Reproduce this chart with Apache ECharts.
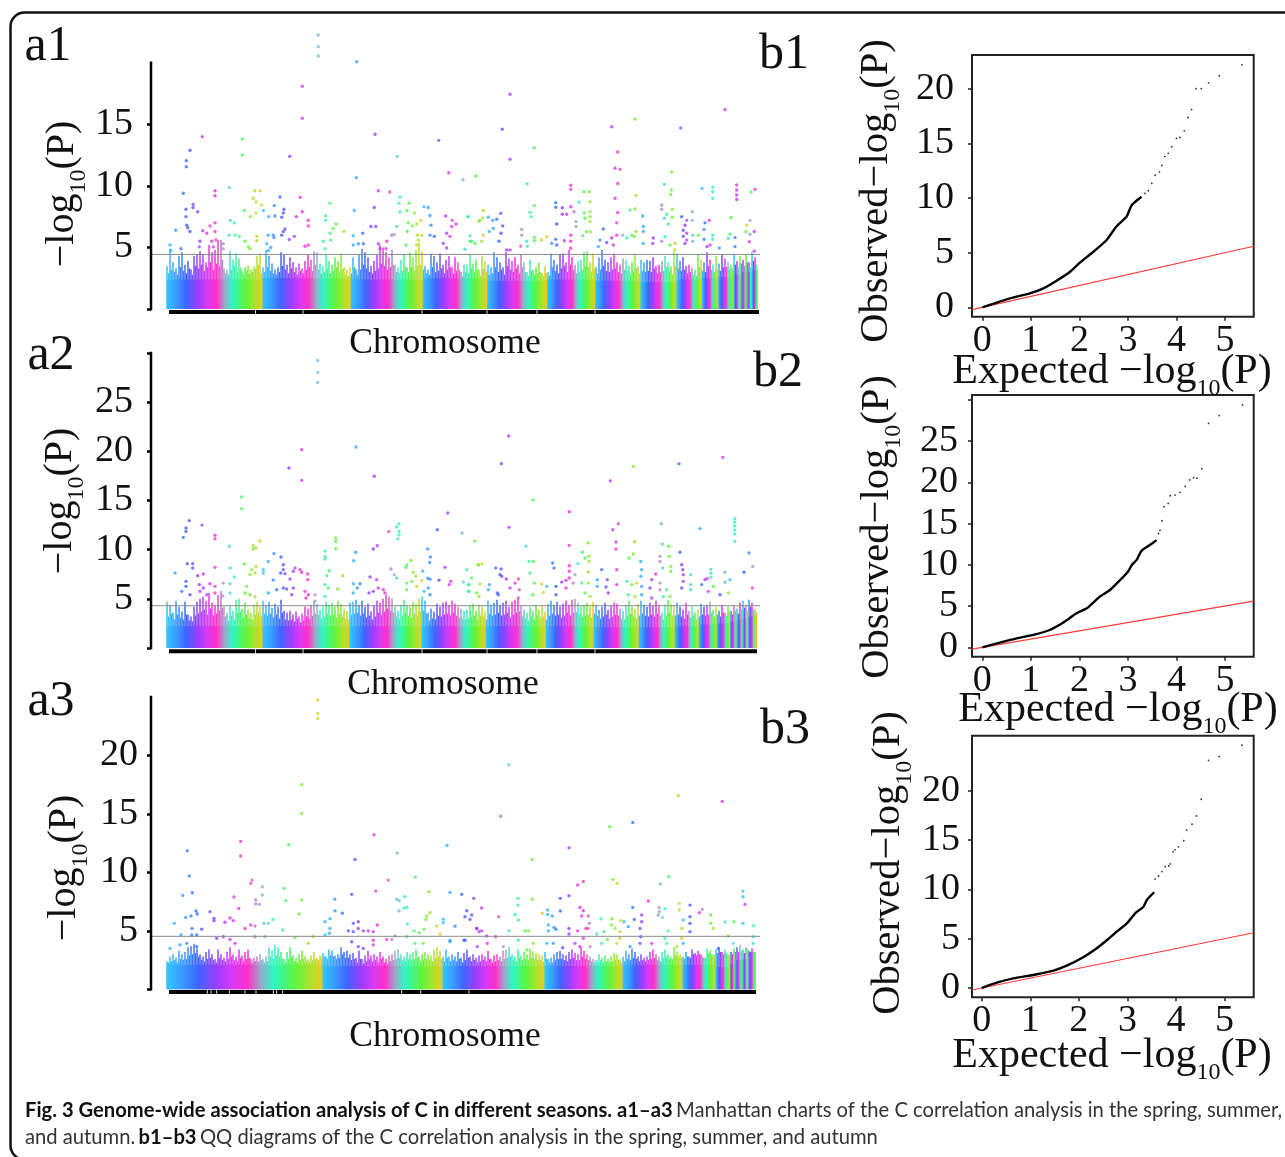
<!DOCTYPE html>
<html>
<head>
<meta charset="utf-8">
<title>Fig. 3</title>
<script src="https://cdn.jsdelivr.net/npm/echarts@6/dist/echarts.min.js"></script>
<style>
  html, body { margin: 0; padding: 0; background: #fff; }
  #chart { width: 1285px; height: 1157px; }
</style>
</head>
<body>
<div id="chart"></div>
<script>
// chromosome boundaries, in position units from the start of the first chromosome
const a1Chroms = [0, 96, 184, 256, 320, 380, 428, 474, 510, 535, 551, 567, 574, 580, 585, 591];
const a2Chroms = [0, 96, 183, 255, 319, 379, 427, 472, 508, 532, 550, 563, 570, 576, 581, 589];
const a3Chroms = [0, 156, 276, 378, 456, 516, 549, 563, 568, 576, 581, 589];

// height of the solid band on each chromosome
const a1Band = [2.4, 2.5, 2.4, 2.5, 2.3, 2.4, 2.3, 2.2, 2.4, 2.5, 2.6, 2.8, 3.0, 3.0, 3.2];
const a2Band = [2.2, 2.2, 2.2, 2.2, 2.2, 2.2, 2.1, 2.1, 2.2, 2.4, 2.5, 2.7, 2.9, 3.0, 3.2];
const a3Band = [2.1, 2.0, 2.0, 2.0, 2.1, 2.1, 1.9, 2.2, 2.5, 2.6, 3.2];

// top of the point cloud, one value every 3 position units
const a1Tops = [
  3.5, 4.9, 3.8, 3.3, 4.3, 4.6, 3.6, 3.9, 3.2, 4.3,
  4.4, 4.7, 4.4, 3.8, 5.2, 4.6, 4.8, 5.6, 5.6, 3.3,
  3.2, 4.7, 4.0, 4.5, 4.1, 3.1, 3.4, 3.5, 3.2, 3.5,
  4.3, 4.4, 3.4, 4.8, 4.3, 3.7, 3.2, 3.4, 4.6, 4.4,
  3.6, 4.2, 3.8, 3.4, 3.7, 3.3, 3.9, 4.4, 4.0, 4.7,
  4.6, 3.7, 3.5, 4.4, 3.9, 3.6, 4.2, 3.9, 4.5, 3.4,
  3.2, 3.4, 4.2, 3.2, 4.4, 4.9, 4.6, 4.2, 3.5, 3.9,
  4.4, 5.2, 5.0, 4.6, 4.2, 4.8, 3.6, 3.4, 4.0, 4.4,
  3.4, 4.6, 4.2, 4.8, 5.4, 4.7, 3.5, 3.2, 4.5, 4.3,
  3.8, 4.5, 3.6, 4.0, 4.3, 3.4, 4.2, 3.8, 3.0, 3.6,
  3.6, 4.4, 3.7, 4.0, 3.2, 4.3, 3.9, 3.6, 3.4, 4.6,
  4.2, 3.8, 3.4, 4.6, 4.1, 3.9, 4.2, 3.6, 4.4, 3.8,
  3.0, 4.0, 3.2, 3.4, 3.8, 2.9, 3.5, 3.0, 4.5, 4.0,
  3.6, 4.4, 4.5, 3.8, 4.8, 4.2, 3.6, 3.9, 4.0, 4.6,
  4.7, 3.8, 4.5, 3.4, 4.2, 4.8, 4.0, 3.8, 4.2, 4.5,
  3.8, 3.6, 4.1, 4.0, 3.5, 3.8, 4.4, 3.5, 4.0, 3.8,
  4.0, 3.9, 4.2, 3.5, 3.6, 3.9, 4.3, 3.8, 3.5, 4.7,
  4.5, 3.9, 4.2, 3.5, 3.6, 3.4, 3.2, 4.4, 4.0, 3.8,
  4.6, 4.0, 3.6, 4.3, 3.7, 4.4, 4.1, 3.8, 3.6, 4.4,
  3.9, 4.3, 4.0, 4.4, 3.8, 4.6, 4.2
];
const a2Tops = [
  4.7, 4.4, 3.6, 4.8, 4.2, 3.7, 4.7, 3.4, 3.2, 4.2,
  4.7, 5.0, 5.2, 4.8, 5.6, 4.6, 4.4, 5.4, 5.8, 4.2,
  3.6, 4.3, 3.8, 4.9, 5.0, 4.0, 4.6, 3.9, 3.6, 4.4,
  4.7, 4.2, 4.8, 4.4, 4.7, 4.1, 4.5, 4.2, 4.9, 3.8,
  3.6, 3.8, 3.4, 3.7, 3.2, 3.5, 4.2, 4.0, 4.4, 4.7,
  4.5, 3.9, 4.2, 4.7, 4.4, 4.6, 4.2, 4.8, 4.5, 4.0,
  3.8, 4.6, 4.7, 4.9, 4.4, 4.8, 4.2, 4.5, 3.7, 4.3,
  4.8, 4.6, 5.0, 5.4, 5.2, 5.0, 4.2, 3.8, 4.4, 4.9,
  4.4, 4.2, 4.7, 4.5, 5.0, 5.2, 4.8, 3.6, 4.0, 3.7,
  4.5, 4.2, 4.6, 4.7, 4.4, 4.8, 4.5, 4.2, 4.0, 3.8,
  3.9, 4.3, 4.5, 3.8, 4.4, 4.2, 3.7, 4.8, 4.4, 4.6,
  4.9, 4.4, 4.6, 4.8, 4.2, 4.7, 4.9, 5.0, 4.3, 3.9,
  3.6, 4.2, 3.8, 4.4, 3.9, 4.3, 3.7, 4.5, 4.8, 4.4,
  4.7, 4.2, 4.5, 4.8, 4.4, 4.9, 5.0, 4.6, 4.2, 4.4,
  4.6, 4.2, 4.7, 4.4, 3.9, 4.2, 4.6, 3.9, 4.3, 4.6,
  4.5, 4.0, 3.8, 4.4, 4.8, 4.2, 4.0, 4.5, 4.8, 4.4,
  4.2, 4.6, 4.3, 4.8, 4.4, 3.6, 4.4, 4.9, 4.5, 4.3,
  4.6, 4.2, 3.9, 4.6, 3.8, 4.2, 3.6, 3.9, 4.5, 4.2,
  4.4, 4.7, 3.9, 4.2, 3.8, 4.4, 3.6, 4.2, 3.8, 4.3,
  4.0, 4.6, 4.8, 4.4, 4.9, 4.6, 4.0
];
const a3Tops = [
  2.4, 2.8, 3.0, 2.7, 3.3, 3.0, 3.2, 3.6, 3.7, 3.9,
  3.5, 3.0, 2.8, 3.2, 3.4, 3.0, 2.6, 3.4, 3.0, 2.7,
  3.2, 3.6, 3.0, 2.8, 3.4, 2.9, 3.2, 3.4, 2.6, 2.7,
  2.8, 3.0, 2.6, 2.8, 3.6, 3.3, 3.8, 3.6, 3.2, 2.6,
  3.2, 3.6, 2.9, 2.7, 3.0, 3.3, 2.8, 2.6, 2.9, 3.2,
  2.7, 2.9, 3.1, 2.8, 3.4, 3.3, 2.9, 3.0, 3.6, 3.2,
  3.3, 3.0, 3.1, 2.7, 3.3, 2.6, 2.9, 3.3, 2.9, 3.0,
  2.8, 3.2, 2.8, 2.6, 2.9, 3.0, 3.3, 3.4, 3.0, 2.8,
  3.2, 3.0, 3.2, 3.4, 2.8, 3.0, 3.2, 3.0, 2.9, 3.4,
  3.6, 3.3, 2.8, 3.4, 2.8, 3.0, 2.8, 3.2, 2.7, 3.1,
  3.4, 2.8, 3.0, 2.7, 2.9, 3.0, 2.8, 3.3, 2.6, 2.9,
  3.0, 2.8, 3.3, 3.4, 3.6, 3.0, 2.8, 3.4, 2.9, 3.2,
  3.0, 3.5, 3.3, 3.1, 3.0, 2.9, 3.2, 2.6, 2.7, 3.0,
  3.2, 3.3, 3.0, 2.9, 3.2, 3.4, 3.1, 3.0, 3.6, 3.3,
  3.0, 2.8, 2.6, 2.5, 3.0, 2.7, 2.9, 2.6, 2.8, 3.1,
  3.0, 2.6, 2.8, 3.3, 3.0, 3.5, 3.2, 2.8, 3.0, 2.7,
  2.8, 3.2, 3.4, 3.0, 2.8, 3.2, 3.4, 3.0, 2.8, 3.6,
  3.2, 3.0, 2.8, 3.2, 2.8, 3.4, 3.1, 3.3, 3.0, 2.7,
  3.5, 3.3, 3.0, 3.4, 3.6, 3.2, 3.4, 3.0, 3.2, 3.5,
  3.6, 3.8, 3.4, 3.6, 3.3, 3.5
];

// lower, denser part of the cloud, in the columns between the ones above
const a1Mids = [
  2.9, 3.2, 3.0, 2.8, 3.4, 3.1, 2.9, 3.3, 2.8, 3.5,
  3.3, 3.6, 3.1, 3.4, 3.8, 3.2, 3.7, 3.5, 4.0, 2.9,
  2.8, 3.2, 3.5, 3.0, 3.4, 2.8, 3.1, 2.9, 3.0, 3.3,
  3.6, 2.9, 3.0, 3.4, 3.1, 2.9, 2.8, 3.0, 3.5, 3.2,
  2.9, 3.3, 3.0, 2.8, 3.1, 2.9, 3.2, 3.4, 3.1, 3.6,
  3.2, 2.9, 3.0, 3.3, 2.9, 3.1, 3.4, 3.0, 3.2, 2.8,
  2.7, 2.9, 3.4, 2.8, 3.2, 3.6, 3.3, 3.0, 2.9, 3.1,
  3.3, 3.7, 3.5, 3.2, 3.4, 3.6, 3.0, 2.9, 3.1, 3.4,
  3.0, 3.4, 3.1, 3.5, 3.6, 3.2, 2.9, 2.8, 3.4, 3.0,
  3.1, 3.3, 2.9, 3.2, 3.4, 2.9, 3.1, 3.2, 2.7, 3.0,
  2.9, 3.3, 3.0, 3.2, 2.7, 3.3, 3.0, 2.8, 2.9, 3.4,
  3.0, 3.2, 2.8, 3.5, 3.2, 3.0, 3.3, 2.9, 3.4, 3.0,
  2.7, 3.1, 2.8, 2.9, 3.0, 2.7, 2.9, 2.7, 3.4, 3.1,
  2.9, 3.3, 3.5, 3.0, 3.6, 3.2, 2.9, 3.0, 3.2, 3.5,
  3.4, 3.0, 3.3, 2.9, 3.2, 3.5, 3.1, 3.0, 3.2, 3.3,
  3.0, 2.9, 3.2, 3.1, 2.8, 3.0, 3.3, 2.9, 3.1, 3.0,
  3.1, 3.0, 3.3, 2.9, 3.0, 3.1, 3.4, 3.0, 2.8, 3.5,
  3.3, 3.1, 3.2, 2.9, 3.0, 2.8, 2.7, 3.4, 3.1, 3.0,
  3.5, 3.2, 3.0, 3.3, 3.1, 3.4, 3.4, 3.2, 3.3, 3.6,
  3.4, 3.7, 3.5, 3.8, 3.4, 3.9, 3.6
];
const a2Mids = [
  3.2, 3.5, 2.9, 3.4, 3.1, 2.9, 3.4, 2.8, 2.7, 3.3,
  3.5, 3.7, 3.9, 3.4, 4.0, 3.3, 3.5, 3.8, 4.1, 3.2,
  2.8, 3.3, 2.9, 3.6, 3.7, 3.1, 3.4, 3.0, 2.9, 3.4,
  3.6, 3.2, 3.5, 3.3, 3.5, 3.1, 3.4, 3.0, 3.6, 2.9,
  2.8, 2.9, 2.7, 3.0, 2.6, 2.8, 3.2, 3.0, 3.3, 3.5,
  3.4, 3.0, 3.2, 3.5, 3.3, 3.4, 3.1, 3.5, 3.2, 3.0,
  2.9, 3.4, 3.5, 3.6, 3.3, 3.5, 3.1, 3.3, 2.9, 3.2,
  3.6, 3.4, 3.7, 4.0, 3.8, 3.6, 3.2, 2.9, 3.3, 3.6,
  3.3, 3.1, 3.5, 3.3, 3.7, 3.8, 3.5, 2.8, 3.0, 2.9,
  3.3, 3.2, 3.4, 3.5, 3.3, 3.6, 3.3, 3.1, 3.0, 2.9,
  3.0, 3.2, 3.3, 2.9, 3.3, 3.2, 2.9, 3.5, 3.3, 3.4,
  3.6, 3.3, 3.4, 3.6, 3.1, 3.4, 3.6, 3.7, 3.2, 3.0,
  2.8, 3.2, 2.9, 3.3, 3.0, 3.2, 2.9, 3.3, 3.5, 3.3,
  3.4, 3.1, 3.3, 3.6, 3.3, 3.6, 3.7, 3.4, 3.2, 3.3,
  3.4, 3.1, 3.5, 3.3, 3.0, 3.2, 3.4, 3.0, 3.2, 3.4,
  3.3, 3.0, 2.9, 3.3, 3.5, 3.2, 3.0, 3.3, 3.5, 3.3,
  3.2, 3.4, 3.2, 3.5, 3.3, 2.9, 3.3, 3.6, 3.3, 3.3,
  3.4, 3.2, 3.0, 3.4, 3.1, 3.3, 2.9, 3.2, 3.4, 3.3,
  3.4, 3.6, 3.2, 3.4, 3.2, 3.6, 3.3, 3.7, 3.4, 3.8,
  3.5, 3.9, 4.1, 3.8, 4.2, 3.9, 3.6
];
const a3Mids = [
  2.3, 2.4, 2.5, 2.3, 2.6, 2.5, 2.6, 2.9, 3.0, 3.1,
  2.8, 2.5, 2.4, 2.6, 2.7, 2.5, 2.3, 2.7, 2.5, 2.4,
  2.6, 2.8, 2.5, 2.4, 2.7, 2.4, 2.6, 2.7, 2.3, 2.4,
  2.4, 2.5, 2.3, 2.4, 2.8, 2.6, 2.9, 2.8, 2.6, 2.3,
  2.6, 2.8, 2.4, 2.3, 2.5, 2.6, 2.4, 2.3, 2.5, 2.6,
  2.5, 2.7, 2.8, 2.6, 2.9, 2.8, 2.6, 2.7, 3.0, 2.7,
  2.7, 2.5, 2.6, 2.3, 2.6, 2.2, 2.4, 2.6, 2.4, 2.5,
  2.3, 2.6, 2.3, 2.2, 2.4, 2.5, 2.6, 2.7, 2.5, 2.4,
  2.6, 2.5, 2.6, 2.7, 2.4, 2.5, 2.6, 2.5, 2.4, 2.7,
  2.8, 2.6, 2.4, 2.7, 2.4, 2.5, 2.4, 2.6, 2.3, 2.5,
  2.7, 2.4, 2.5, 2.3, 2.4, 2.5, 2.4, 2.6, 2.3, 2.4,
  2.5, 2.4, 2.6, 2.7, 2.8, 2.5, 2.4, 2.7, 2.5, 2.6,
  2.5, 2.7, 2.6, 2.5, 2.5, 2.4, 2.6, 2.3, 2.3, 2.5,
  2.6, 2.6, 2.5, 2.4, 2.6, 2.7, 2.5, 2.5, 2.8, 2.6,
  2.5, 2.4, 2.3, 2.3, 2.5, 2.3, 2.4, 2.3, 2.4, 2.5,
  2.5, 2.3, 2.4, 2.6, 2.5, 2.7, 2.6, 2.4, 2.5, 2.4,
  2.5, 2.6, 2.7, 2.5, 2.4, 2.7, 2.8, 2.6, 2.6, 2.9,
  2.8, 2.7, 2.6, 2.8, 2.7, 3.0, 2.9, 3.0, 2.8, 2.7,
  3.1, 3.0, 2.9, 3.1, 3.2, 3.0, 3.1, 2.9, 3.0, 3.2,
  3.2, 3.3, 3.1, 3.3, 3.1, 3.2
];

// single points above the cloud: [position, -log10(P)]
const a1Points = [
  [151.3,22.26],[151.3,21.3],[151.3,20.55],[189.7,20.09],[135.3,18.1],[135.3,15.5],[35.3,14],[208,14.2],[271.7,13.7],[75.3,13.8],
  [75.3,12.5],[23,12.9],[19.3,12.05],[19.3,11.56],[122.7,12.4],[230.3,12.4],[281.7,11.07],[308.7,10.8],[189.3,10.67],[296,10.5],
  [62.3,9.86],[211.3,9.6],[222.7,9.5],[16.3,9.4],[48,9.6],[48,9.2],[88,9.6],[93,9.6],[86.3,9],[89,8.7],
  [113,9.1],[133.3,9.07],[233,9.1],[163,8.6],[232,8.6],[233,7.9],[240,8],[242,8.6],[26.3,8.5],[26,8.25],
  [19,8.1],[19,7.5],[30.7,7.9],[77.3,8],[96.3,8],[94.7,8.45],[89,7.8],[107.3,8.4],[117,8.1],[116.3,7.8],
  [108,7.55],[101.7,7.5],[114.7,7.45],[83.3,7.5],[135.3,7.9],[129.3,7.5],[141.3,7.2],[141.3,6.75],[158.7,7.55],[158.7,7.2],
  [187.3,8],[207.3,8.25],[247.3,7.8],[257,8.3],[261.3,8.25],[263,7.6],[278.7,7.55],[300.7,7.5],[285.3,7.2],[289,6.9],
  [284.7,6.7],[312,7.15],[48,7],[43,6.75],[63.3,7.2],[67.3,7],[35.7,6.36],[48,6.3],[19.7,6.8],[23,6.3],
  [20.7,6.6],[8.7,6.4],[169,6.9],[166.3,6.55],[177,6.3],[163,6.15],[204,6.7],[208.7,6.7],[229.7,6.7],[195.7,6.15],
  [186.3,5.95],[116.3,6.3],[114.7,6],[118,6.5],[101.3,6],[106.3,6],[107,5.8],[62.3,6],[68,6],[72.3,5.9],
  [89.7,5.9],[89.7,5.55],[127.3,5.9],[122.3,5.65],[263,6],[267.3,5.9],[264,6.8],[240.3,6.3],[241.3,7],[245.3,6.75],
  [249.7,6.9],[253.7,7.2],[224.7,6],[227.3,6.05],[279.7,6.15],[283,5.9],[250.3,6],[254.7,6],[33,5.5],[32.3,5.05],
  [39.7,6.15],[44.7,5.5],[49,5.6],[46.3,5.05],[3,5.2],[3.7,4.75],[14,4.9],[78,5.5],[81.3,5.05],[83,4.9],
  [56.3,5.3],[56.3,4.9],[99.7,5.3],[103.7,5],[101.3,4.75],[138,5.1],[141.3,5.2],[156.3,5.5],[158,4.9],[163.7,5.6],
  [186.3,5.2],[191.3,5.3],[196.3,5.3],[211.3,5.3],[219.7,5.5],[213,4.9],[219,4.9],[239,5.2],[249.7,5.2],[251.3,5.6],
  [343,17.44],[558,16.2],[468,15.43],[444.7,14.8],[513.7,14.7],[335.3,14.6],[367.3,13.1],[450.7,12.75],[343,12.16],[448,11.43],
  [453,11.35],[504.7,11.13],[450.7,10.2],[497.3,10.13],[360,10.18],[403.7,10.05],[403.7,9.72],[569.7,10.07],[569.7,9.67],[569.7,9.26],
  [569.7,8.9],[535,9.8],[545.7,9.88],[545.7,9.53],[545.7,9],[588,9.72],[584,9.5],[417,9.53],[422.3,9.53],[504.3,9.67],
  [503.7,9.3],[469,9.23],[448,9],[388.7,8.64],[388.7,8.26],[412,8.67],[423,8.72],[367.3,8.4],[403.7,8.3],[407,7.9],
  [395.3,8.23],[395.3,7.7],[399.7,7.7],[463,8.04],[468,8.12],[494.7,8.45],[494.7,8.1],[505.3,8.1],[525.3,7.9],[450.7,7.83],
  [417.3,7.8],[423,7.9],[418,7.37],[423,7.5],[423,7.1],[316.3,8],[333.7,7.77],[363,7.85],[364,7.5],[301.3,7.5],
  [475.7,7.55],[321.3,7.45],[329.7,7.3],[325.7,7.2],[313,7.2],[315.7,7.4],[564,7.42],[505.3,7.45],[499.7,7.7],[497.3,7.37],
  [501.3,6.9],[514.7,7.5],[519.7,7.2],[518,6.8],[516.3,6.4],[519.7,6.15],[516.3,5.9],[518,5.33],[519.7,5.6],[538,7],
  [542.3,7.2],[583,7.2],[579.7,6.8],[525.3,7.2],[449.7,7],[389.7,6.9],[409,7.1],[409,6.7],[335.7,6.75],[334,6.15],
  [322.3,6.3],[326.3,6.55],[354.7,6.47],[354.7,6],[436.3,6.5],[476.3,6.7],[476.3,6.3],[476.3,5.33],[469,6.3],[467.3,5.9],
  [537,6.47],[537,5.66],[579,6.3],[587.3,6.3],[583,6.07],[582.3,5.47],[525.7,6],[525.7,5.5],[531.3,6],[545.7,6],
  [545.7,5.66],[563,6.07],[561.3,5.74],[568,5.8],[367.3,5.82],[367.3,5.55],[379.7,5.87],[374.7,5.6],[388.7,5.66],[384.7,5.33],
  [389.7,5.2],[397.3,5.55],[403.7,6],[403.7,5.5],[403.7,4.93],[415.7,5.96],[423.7,6.28],[419.7,6.28],[303,5.96],[303,5.5],
  [308,5.33],[316.3,6],[314.7,5.5],[332,5.5],[359.7,5.5],[360.3,5.1],[449.7,6],[444.7,5.77],[446.3,5.2],[455.7,6],
  [459.7,5.77],[464.7,6],[433,5.6],[439.7,5.4],[431.3,5.07],[498,5.87],[494.7,5.5],[486.3,5.77],[485.7,5.33],[540,5.07],
  [543,5.2],[568,5.07],[552.3,4.95],[587.3,4.7],[353.7,5.1],[343,4.8],[339.7,4.8],[276.3,5.33],[279.7,4.95],[298,4.85],
  [304.7,5.5],[503,5.2],[508,5.33],[508,4.8]
];
const a2Points = [
  [150.7,29.25],[150.7,28.03],[150.7,27],[189,20.44],[134.7,20.17],[134.7,17.05],[122,18.3],[207.3,17.46],[74.7,15.36],[74.7,14.17],
  [22.3,12.95],[35,12.5],[19,12.2],[19,11.86],[16.3,11.25],[48,11.46],[48,11.1],[280.7,13.73],[270.3,12.03],[232,12.64],
  [229.7,12.3],[232,11.86],[232,11.5],[230.7,11.1],[221.7,11.86],[295,11.7],[307.7,10.88],[168.7,11.2],[168.7,10.85],[168.7,10.1],
  [92.7,10.88],[86.3,10.4],[86.3,10.07],[89,10.17],[62.3,10.34],[210.3,10.4],[206.3,10.07],[260.7,10.07],[107,9.6],[114,9.25],
  [188.7,9.73],[186.7,8.88],[158,9.86],[158,9.32],[158,9.05],[263.3,9.25],[262.7,8.7],[101.3,8.8],[244,8.9],[239.7,8.47],
  [239,8.2],[77.3,8.54],[20.3,8.58],[25.7,8.58],[25.7,8.14],[116.3,8.47],[116.3,7.97],[113.7,7.63],[118,7.56],[63.3,8.14],
  [48,8.2],[89,8.3],[84.7,7.97],[83,7.46],[88,7.63],[96.3,7.97],[96.3,7.63],[128,8.14],[126.3,7.8],[133,7.97],
  [134.7,7.7],[224,8.03],[278,8.2],[299.7,7.97],[311.3,8.47],[162.3,7.86],[159.7,7.36],[175.7,7.36],[140.7,7.53],[140.7,6.95],
  [227.3,7.46],[229.7,7.12],[8,7.63],[30.7,7.36],[36.3,7.53],[203,7.22],[209.7,6.95],[246.3,7.7],[248.7,7.3],[255.7,7.8],
  [254.7,6.88],[257,5.76],[67.3,7.22],[123,7.02],[106.3,6.9],[19,6.78],[19,6.27],[32.3,6.44],[43,6.54],[48,6.27],
  [48,5.6],[56.3,6.6],[55.7,5.3],[63,6.54],[63,5.6],[186.3,6.54],[193,6.54],[190.3,6.1],[186.3,5.6],[272,6.9],
  [282.3,6.44],[283.7,6.78],[260.7,7.1],[263,7],[261.3,6.1],[263,5.42],[239.7,6.6],[239.7,5.93],[249.7,6.27],[244.7,6.78],
  [296.3,6.7],[304.7,7.12],[301.3,6.44],[301.3,5.76],[158,6.44],[161.3,6.1],[158,5.25],[170.7,6],[116.3,6.1],[119.7,6],
  [126.3,6.1],[124.7,5.42],[79.7,6.27],[78,5.6],[88,5.2],[83,5.42],[138,5.76],[141.3,5.42],[139,5.08],[14.7,5.76],
  [23,5.42],[33,5.76],[36.3,6.1],[39.7,5.42],[211.3,6.1],[216.3,5.93],[206.3,5.76],[218,5.6],[202,5.6],[109.7,5.93],
  [101.3,5.6],[148,5.42],[148,4.75],
  [341.7,21.56],[555.7,19.39],[334.3,18.75],[512,18.75],[466.3,18.47],[443.3,17],[366,15.05],[402.3,13.86],[451.3,12.64],[342,12.27],
  [567.7,13.15],[567.7,12.8],[567.7,12.4],[567.7,12],[567.7,11.6],[567.7,10.85],[494.3,12.64],[445.7,12.03],[533,12.14],[421.3,10.68],
  [467.7,10.81],[449,10.78],[449,10.07],[495.3,10.58],[501.7,10.34],[402.3,10.44],[359,10.34],[415.3,9.73],[582,9.66],[466.3,9.56],
  [462,9.15],[493,9.32],[493,8.8],[502.3,9.32],[513,9.73],[514.7,8.47],[515.7,7.97],[516.3,7.46],[516.3,6.78],[514.7,6.1],
  [418,9.15],[422,9.32],[422,8.8],[411,8.58],[362,8.8],[366.3,8.8],[363,7.63],[385.7,8.64],[387,8.14],[473.7,8.8],
  [474.7,7.97],[474,7.29],[474.7,6.27],[474.7,5.42],[585.7,8.3],[328.7,8.14],[334,8.03],[333,7.46],[334.7,7.29],[311.3,8.47],
  [315,8.58],[402.3,8.37],[402.3,7.8],[402.3,7.12],[406.3,6.6],[408,7.46],[434.7,7.97],[449.7,7.97],[495.7,8.14],[503.7,8.3],
  [503.7,7.8],[421.3,7.73],[558,7.7],[577,7.7],[544,8],[544,7.6],[544,7.2],[523.7,7.46],[523.7,6.44],[523.7,5.93],
  [488.7,7.53],[534.7,6.44],[538,6.95],[540.3,7.08],[339.3,7.02],[351.3,7.02],[348,6.6],[352.3,5.93],[430.3,6.95],[430.3,6.27],
  [440.3,6.95],[439,6.2],[441.3,5.6],[449.7,6.44],[399,6.88],[399,6.1],[394.7,6.7],[389,6.27],[389,5.42],[379.7,6.27],
  [374.7,6.5],[376.3,5.66],[367.3,6.6],[365.7,5.42],[313,6.5],[309.7,5.6],[312,5.25],[302,6.44],[302,5.76],[322.3,6.44],
  [321.3,5.93],[330.3,5.6],[331.3,5.42],[343,6.1],[351.3,5.08],[459.7,6.78],[464.7,6.44],[469.7,6.6],[461.3,5.42],[468,5.25],
  [493,6.6],[493,5.93],[499.7,5.93],[496.3,5.25],[503,5.25],[484.7,6.95],[483,6.1],[484.7,5.08],[558,6.68],[563,6.95],
  [561.3,5.6],[585.3,6.1],[414.7,6.6],[418,5.6],[421.3,6.6],[423,5.25],[541.3,5.76],[546.3,6.27],[553,5.42]
];
const a3Points = [
  [150.7,24.73],[150.7,23.6],[150.7,23.16],[134.7,17.5],[134.7,15.04],[73.7,12.65],[73.7,11.4],[207,13.22],[121.7,12.36],[280,12.3],
  [20.3,11.85],[230.3,11.65],[188,11.1],[22.3,9.7],[248.3,9.6],[85,9.34],[83.7,9.06],[221.3,9.34],[95.3,8.77],[95.3,8.06],
  [117.3,8.63],[25.3,8.26],[208.7,8.4],[262,8.35],[283,8.29],[184.7,8.12],[294.7,8.12],[15.7,8.03],[67,7.9],[237.7,7.92],
  [306.7,7.78],[134.7,7.64],[118.7,7.58],[167.7,7.7],[88.7,7.64],[88.7,7.3],[92.3,7.26],[229.7,7.7],[232,7.58],[232,6.72],
  [71.7,6.92],[237,6.95],[240,7],[168,6.72],[175.3,6.5],[29,6.7],[30.3,6.44],[43,6.64],[132,6.44],[263,6.55],
  [259.7,6.27],[259,5.98],[299.7,6.72],[304.7,6.35],[298,6.2],[303,5.98],[18.7,6.15],[24,6.27],[47,6.07],[47,5.87],
  [63,6.1],[58,5.73],[66.3,5.87],[163,6.04],[158,5.78],[106,5.98],[97,5.64],[101.3,5.64],[276.3,6],[276.3,5.7],
  [7.3,5.64],[240.3,5.58],[186.3,5.64],[191.3,5.78],[191.3,5.2],[186.3,4.93],[196.3,5],[78,5.2],[83.7,5.5],[88,5.41],
  [210.3,5.5],[206.3,4.93],[115.7,5.07],[163,5.2],[162.3,4.8],[158,4.64],[34.7,5.13],[25,5.2],[24.7,4.64],[29.7,4.64],
  [181.3,5],[201.3,5],[288,5.4],[309.7,5.2],[312,4.93],[247,5],[252.3,4.84],[257,5.13],[14,4.64],[269.7,5.41],
  [273,4.73],[49.7,4.36],[56.3,4.5],[63,4.27],[68,3.93],[88,4.5],[98,4.5],[128,4.42],[146.3,4.5],[141.3,3.93],
  [219.7,4.27],[224.7,4.27],[228,4.56],[3,3.5],[13,3.8],[29.7,3.65],[19.7,3.93],[184.7,4.07],[191.3,3.65],[196.3,3.5],
  [206.3,4.2],[206.3,3.8],[239.7,4.5],[248,3.93],[256.3,3.93],[283,4.07],[298,4.2],
  [341.7,19.2],[511.3,16.58],[555.3,16.07],[333.7,14.8],[465.7,14.27],[442.7,13.9],[402,12.1],[365.3,11.1],[501.7,9.63],[445.7,9.4],
  [450.3,9.06],[416.3,9.23],[410.7,8.92],[493.3,9],[576,8.4],[576,7.92],[578,7.26],[402,8],[351,7.78],[351,7.2],
  [365.3,7.7],[393.3,7.78],[481.3,7.55],[512.3,7.35],[512.3,6.78],[523,7.2],[523,6.2],[523,5.64],[523,4.93],[465.7,7],
  [492.3,7],[492.3,6.64],[491.3,6.35],[495.3,6.15],[498,6.9],[535.3,6.84],[532.3,6.55],[380.7,6.78],[380.7,6.4],[393.3,6.7],
  [413,7],[416.3,6.72],[414.7,6.27],[421.3,6.27],[422.3,5.64],[421.3,5.2],[348,6.4],[351.3,5.93],[543.7,6.35],[543.7,5.64],
  [546.3,5.2],[474.7,6.35],[474.7,5.78],[473,5.2],[473.7,4.5],[467.3,5.98],[385.3,6.27],[375.3,6.5],[434,6.04],[444.7,6.04],
  [453.7,5.87],[457,5.78],[567,5.78],[558,5.75],[576,5.64],[586.7,5.44],[516.3,5.93],[514.7,5.2],[514.7,4.36],[314.7,6.95],
  [331.7,6.2],[309.7,5.2],[314.7,5],[319.7,4.56],[328.7,4.5],[342,5],[358,5],[361.3,5],[381.3,5.5],[381.3,5],
  [387,5.3],[389,5.13],[402,5.2],[402,4.73],[410.7,5],[419,5.2],[416.3,4.36],[429.7,4.73],[437,4.93],[444.7,5.5],
  [448,5.2],[440.3,4.27],[453,4.93],[453,4.36],[461.3,5.36],[501.3,5],[498,4.36],[561.3,4.56],[586.3,4.5],[283,4.2],
  [297,4.2],[310.3,3.65],[320.3,3.93],[336.3,3.65],[351.3,4.2],[366.3,3.93],[359.7,3.36],[379.7,3.93],[386.3,3.93],[395.7,3.56],
  [408,3.93],[423,3.65],[413,3.65],[449.7,3.93],[434.7,3.93],[473,3.93],[484.7,3.93],[463,3.65],[499.7,3.93],[509.7,3.65],
  [516.3,3.93],[551.3,3.5],[566.3,3.93],[579.7,3.36],[586.3,3.93]
];

// significance thresholds and small gaps in the marker rug
const a1Threshold = 4.43;
const a2Threshold = 4.3;
const a3Threshold = 4.53;
const a1RugGaps = [88.5, 136, 255, 320, 370, 428];
const a2RugGaps = [88.5, 136, 255, 320, 370, 428];
const a3RugGaps = [40.3, 44, 49.7, 62.3, 78, 89, 106.3, 109.7, 115.7, 234.7, 253.7, 302];

// QQ curves: [expected, observed]
const b1Curve = [[0,0],[0.3,0.43],[0.57,0.82],[0.98,1.28],[1.26,1.74],[1.53,2.44],[1.81,3.26],[2.01,4.09],[2.29,5.09],[2.56,6.16],[2.77,7.44],[2.97,8.29],[3.08,9.36],[3.28,10.12]];
const b1Dots = [[3.35,10.43],[3.42,10.67],[3.49,11.34],[3.56,12.1],[3.65,12.4],[3.7,13],[3.76,13.8],[3.83,14.1],[3.9,14.7],[4,15.46],[4.07,15.55],[4.16,16.16],[4.24,17.38],[4.31,18.1],[4.4,20.03],[4.51,20.03],[4.66,20.55],[4.88,21.2],[5.35,22.2]];
const b2Curve = [[0,0],[0.36,0.57],[0.71,1.09],[1.05,1.5],[1.39,2.1],[1.67,3],[1.94,4.12],[2.15,4.73],[2.42,6.14],[2.63,6.95],[2.84,8.16],[3,9.17],[3.08,9.98],[3.18,10.6],[3.28,11.7],[3.45,12.4],[3.59,13]];
const b2Dots = [[3.63,13.8],[3.66,14.2],[3.7,15.35],[3.74,17.05],[3.83,17.45],[3.87,18.38],[3.97,18.46],[4.07,18.8],[4.18,19.5],[4.27,20.3],[4.35,20.57],[4.42,20.5],[4.52,21.66],[4.66,27.15],[4.88,28.1],[5.36,29.4]];
const b3Curve = [[0,0],[0.31,0.54],[0.65,0.98],[1.06,1.32],[1.48,1.76],[1.75,2.26],[2.09,3.11],[2.37,4.02],[2.58,4.86],[2.78,5.71],[2.99,6.55],[3.16,7.57],[3.33,8.24],[3.4,8.92],[3.55,9.7]];
const b3Dots = [[3.57,11.05],[3.64,11.35],[3.71,11.8],[3.78,12.3],[3.85,12.36],[3.88,12.57],[3.94,13.8],[3.98,14],[4.05,14.3],[4.16,14.93],[4.22,16],[4.33,16.6],[4.42,17.43],[4.52,19.12],[4.67,23.07],[4.89,23.45],[5.36,24.6]];

const palette = [
  [0, '#2fc6ff'], [0.1, '#3a9bff'], [0.2, '#3f66ff'], [0.32, '#9a3fff'], [0.42, '#d83af5'], [0.52, '#ff30c8'],
  [0.6, '#9aa8c8'], [0.68, '#2ff5c8'], [0.82, '#5cf53c'], [0.93, '#b4e02c'], [1, '#eec820'],
];
const SERIF = '"Liberation Serif", serif';

const colorAt = (x, chroms) => {
  let c = 0;
  while (c < chroms.length - 2 && x >= chroms[c + 1]) c++;
  const t = Math.min(1, Math.max(0, (x - chroms[c]) / (chroms[c + 1] - chroms[c])));
  let i = 0;
  while (i < palette.length - 2 && t >= palette[i + 1][0]) i++;
  const f = (t - palette[i][0]) / (palette[i + 1][0] - palette[i][0]);
  return echarts.color.lerp(f, [palette[i][1], palette[i + 1][1]]);
};

const option = { animation: false, backgroundColor: '#fff', grid: [], xAxis: [], yAxis: [], series: [], graphic: [] };

const addManhattan = (cfg) => {
  const g = option.grid.length;
  option.grid.push({ left: 151, width: 612, top: cfg.top, height: cfg.height });
  option.xAxis.push({ gridIndex: g, type: 'value', min: -16, max: 596, show: false });
  option.yAxis.push({
    gridIndex: g, type: 'value', min: 0, max: cfg.max,
    axisLine: { show: false, onZero: false },
    splitLine: { show: false },
    axisTick: { show: true, length: 4, lineStyle: { color: '#000', width: 2.5 }, customValues: cfg.ticks },
    axisLabel: { fontFamily: SERIF, fontSize: 38, color: '#111', margin: cfg.margin, padding: [8, 0, 0, 0], customValues: cfg.labels },
  });
  const common = { xAxisIndex: g, yAxisIndex: g, silent: true };
  // solid band with the colour sweep of each chromosome
  cfg.band.forEach((h, c) => {
    option.series.push({
      ...common, type: 'line', symbol: 'none', clip: false, z: 1,
      data: [[cfg.chroms[c], h], [cfg.chroms[c + 1], h]],
      lineStyle: { width: 0 },
      areaStyle: {
        opacity: 1,
        color: new echarts.graphic.LinearGradient(0, 0, 1, 0, palette.map(p => ({ offset: p[0], color: p[1] }))),
      },
    });
  });
  // cloud columns
  option.series.push({
    ...common, type: 'bar', barWidth: 1.5, barGap: '-100%', z: 2,
    data: cfg.tops.map((v, i) => ({ value: [i * 3, v], itemStyle: { color: colorAt(i * 3, cfg.chroms) } })),
  });
  option.series.push({
    ...common, type: 'bar', barWidth: 1.5, barGap: '-100%', z: 2,
    data: cfg.mids.map((v, i) => ({ value: [i * 3 + 1.5, v], itemStyle: { color: colorAt(i * 3 + 1.5, cfg.chroms) } })),
  });
  // points
  option.series.push({
    ...common, type: 'scatter', symbolSize: 3.4, z: 4,
    data: cfg.points.map(p => ({ value: p, itemStyle: { color: colorAt(p[0], cfg.chroms) } })),
  });
  // threshold
  option.series.push({
    ...common, type: 'line', symbol: 'none', clip: false, z: 5,
    data: [[-17, cfg.threshold], [593, cfg.threshold]],
    lineStyle: { color: '#8a8a8a', width: 1 },
  });
  // y spine
  option.series.push({
    ...common, type: 'line', symbol: 'none', clip: false, z: 5,
    data: [[-16, 0], [-16, cfg.spineTop]],
    lineStyle: { color: '#000', width: 2.5, cap: 'square' },
  });
  // marker rug under the axis
  const rug = [];
  let from = 2;
  cfg.gaps.forEach(gap => {
    rug.push([from, cfg.rugY], [gap - 0.4, cfg.rugY], ['-', '-']);
    from = gap + 0.4;
  });
  rug.push([from, cfg.rugY], [cfg.rugEnd, cfg.rugY]);
  option.series.push({
    ...common, type: 'line', symbol: 'none', clip: false, z: 3, connectNulls: false,
    data: rug,
    lineStyle: { color: '#000', width: 4, cap: 'butt' },
  });
};

const addQQ = (cfg) => {
  const g = option.grid.length;
  option.grid.push({ left: 972, width: 281.7, top: cfg.top, height: cfg.height, show: true, borderColor: '#222', borderWidth: 2, backgroundColor: 'transparent' });
  option.xAxis.push({
    gridIndex: g, type: 'value', min: cfg.xMin, max: cfg.xMax,
    axisLine: { show: false, onZero: false }, splitLine: { show: false },
    axisTick: { show: true, length: 4, lineStyle: { color: '#222', width: 1.5 }, customValues: [0, 1, 2, 3, 4, 5] },
    axisLabel: { fontFamily: SERIF, fontSize: 38, color: '#111', margin: 5, customValues: [0, 1, 2, 3, 4, 5] },
  });
  option.yAxis.push({
    gridIndex: g, type: 'value', min: cfg.yMin, max: cfg.yMax,
    axisLine: { show: false, onZero: false }, splitLine: { show: false },
    axisTick: { show: true, length: 4, lineStyle: { color: '#222', width: 1.5 }, customValues: cfg.ticks },
    axisLabel: { fontFamily: SERIF, fontSize: 38, color: '#111', margin: cfg.margin, padding: [4, 0, 0, 0], customValues: cfg.labels },
  });
  const common = { xAxisIndex: g, yAxisIndex: g, silent: true };
  option.series.push({
    ...common, type: 'line', symbol: 'none', z: 2,
    data: [[cfg.xMin, cfg.xMin], [cfg.xMax, cfg.xMax]],
    lineStyle: { color: '#ff3b3b', width: 1.2 },
  });
  option.series.push({
    ...common, type: 'line', symbol: 'none', z: 3, smooth: 0.2,
    data: cfg.curve,
    lineStyle: { color: '#000', width: 2.4 },
  });
  option.series.push({
    ...common, type: 'scatter', symbolSize: 1.8, z: 3,
    data: cfg.dots,
    itemStyle: { color: '#000' },
  });
};

addManhattan({
  top: 33, height: 276, max: 22.42, margin: 18, ticks: [0, 5, 10, 15], labels: [5, 10, 15], spineTop: 20,
  chroms: a1Chroms, band: a1Band, tops: a1Tops, mids: a1Mids, points: a1Points, threshold: a1Threshold, gaps: a1RugGaps, rugY: -0.24, rugEnd: 592,
});
addManhattan({
  top: 353, height: 295, max: 30, margin: 18, ticks: [0, 5, 10, 15, 20, 25, 30], labels: [5, 10, 15, 20, 25], spineTop: 30,
  chroms: a2Chroms, band: a2Band, tops: a2Tops, mids: a2Mids, points: a2Points, threshold: a2Threshold, gaps: a2RugGaps, rugY: -0.34, rugEnd: 590,
});
addManhattan({
  top: 697, height: 292.3, max: 25, margin: 13, ticks: [0, 5, 10, 15, 20], labels: [5, 10, 15, 20], spineTop: 25,
  chroms: a3Chroms, band: a3Band, tops: a3Tops, mids: a3Mids, points: a3Points, threshold: a3Threshold, gaps: a3RugGaps, rugY: -0.23, rugEnd: 589,
});
addQQ({
  top: 55, height: 261.7, xMin: -0.212, xMax: 5.59, yMin: -0.86, yMax: 23.1, margin: 18,
  ticks: [0, 5, 10, 15, 20], labels: [0, 5, 10, 15, 20], curve: b1Curve, dots: b1Dots,
});
addQQ({
  top: 395, height: 261.7, xMin: -0.212, xMax: 5.59, yMin: -1.14, yMax: 30.6, margin: 14,
  ticks: [0, 5, 10, 15, 20, 25, 30], labels: [0, 5, 10, 15, 20, 25], curve: b2Curve, dots: b2Dots,
});
addQQ({
  top: 735.7, height: 261.6, xMin: -0.2, xMax: 5.6, yMin: -0.94, yMax: 25.56, margin: 12,
  ticks: [0, 5, 10, 15, 20], labels: [0, 5, 10, 15, 20], curve: b3Curve, dots: b3Dots,
});

const richTitle = (size) => ({
  m: { fontFamily: SERIF, fontSize: size, lineHeight: 58, verticalAlign: 'middle', fill: '#111', color: '#111' },
  s: { fontFamily: SERIF, fontSize: 24, lineHeight: 24, verticalAlign: 'bottom', fill: '#111', color: '#111' },
});
const addText = (text, x, y, size) => option.graphic.push({
  type: 'text', x, y, silent: true,
  style: { text, fontFamily: SERIF, fontSize: size, fill: '#111', align: 'center', verticalAlign: 'middle' },
});
const addTitle = (text, x, y, size, rotated) => option.graphic.push({
  type: 'text', x, y, rotation: rotated ? Math.PI / 2 : 0, silent: true,
  style: { text, rich: richTitle(size), align: 'center', verticalAlign: 'middle' },
});

addText('a1', 48, 47, 50);
addText('a2', 51, 356, 50);
addText('a3', 51, 702, 50);
addText('b1', 784, 55, 50);
addText('b2', 778, 373, 50);
addText('b3', 785, 730, 50);
addText('Chromosome', 445, 344, 35.5);
addText('Chromosome', 443, 685, 35.5);
addText('Chromosome', 445, 1037, 35.5);
addTitle('{m|−log}{s|10}{m|(P)}', 62, 194, 40, true);
addTitle('{m|−log}{s|10}{m|(P)}', 60, 501, 40, true);
addTitle('{m|−log}{s|10}{m|(P)}', 64, 868, 40, true);
addTitle('{m|Observed−log}{s|10}{m|(P)}', 876, 191, 40.5, true);
addTitle('{m|Observed−log}{s|10}{m|(P)}', 877, 527, 40.5, true);
addTitle('{m|Observed−log}{s|10}{m|(P)}', 888, 863, 40.5, true);
addTitle('{m|Expected −log}{s|10}{m|(P)}', 1112, 372, 42, false);
addTitle('{m|Expected −log}{s|10}{m|(P)}', 1118, 710, 42, false);
addTitle('{m|Expected −log}{s|10}{m|(P)}', 1112, 1056, 42, false);

const captionRich = {
  b: { fontFamily: 'Lato, sans-serif', fontWeight: 'bold', fontSize: 20.2, fill: '#111' },
  n: { fontFamily: 'Lato, sans-serif', fontSize: 20.2, fill: '#333' },
};
option.graphic.push({
  type: 'text', x: 25, y: 1110, silent: true,
  style: { text: '{b|Fig. 3 Genome-wide association analysis of C in different seasons. a1–a3} {n|Manhattan charts of the C correlation analysis in the spring, summer,}', rich: captionRich, verticalAlign: 'middle' },
});
option.graphic.push({
  type: 'text', x: 25, y: 1137, silent: true,
  style: { text: '{n|and autumn.} {b|b1–b3} {n|QQ diagrams of the C correlation analysis in the spring, summer, and autumn}', rich: captionRich, verticalAlign: 'middle' },
});
option.graphic.push({
  type: 'rect', silent: true,
  shape: { x: 10.5, y: 12.5, width: 1400, height: 1147, r: 14 },
  style: { fill: 'none', stroke: '#111', lineWidth: 2.5 },
});

const chart = echarts.init(document.getElementById('chart'));
chart.setOption(option);
window.addEventListener('resize', chart.resize);
</script>
</body>
</html>
